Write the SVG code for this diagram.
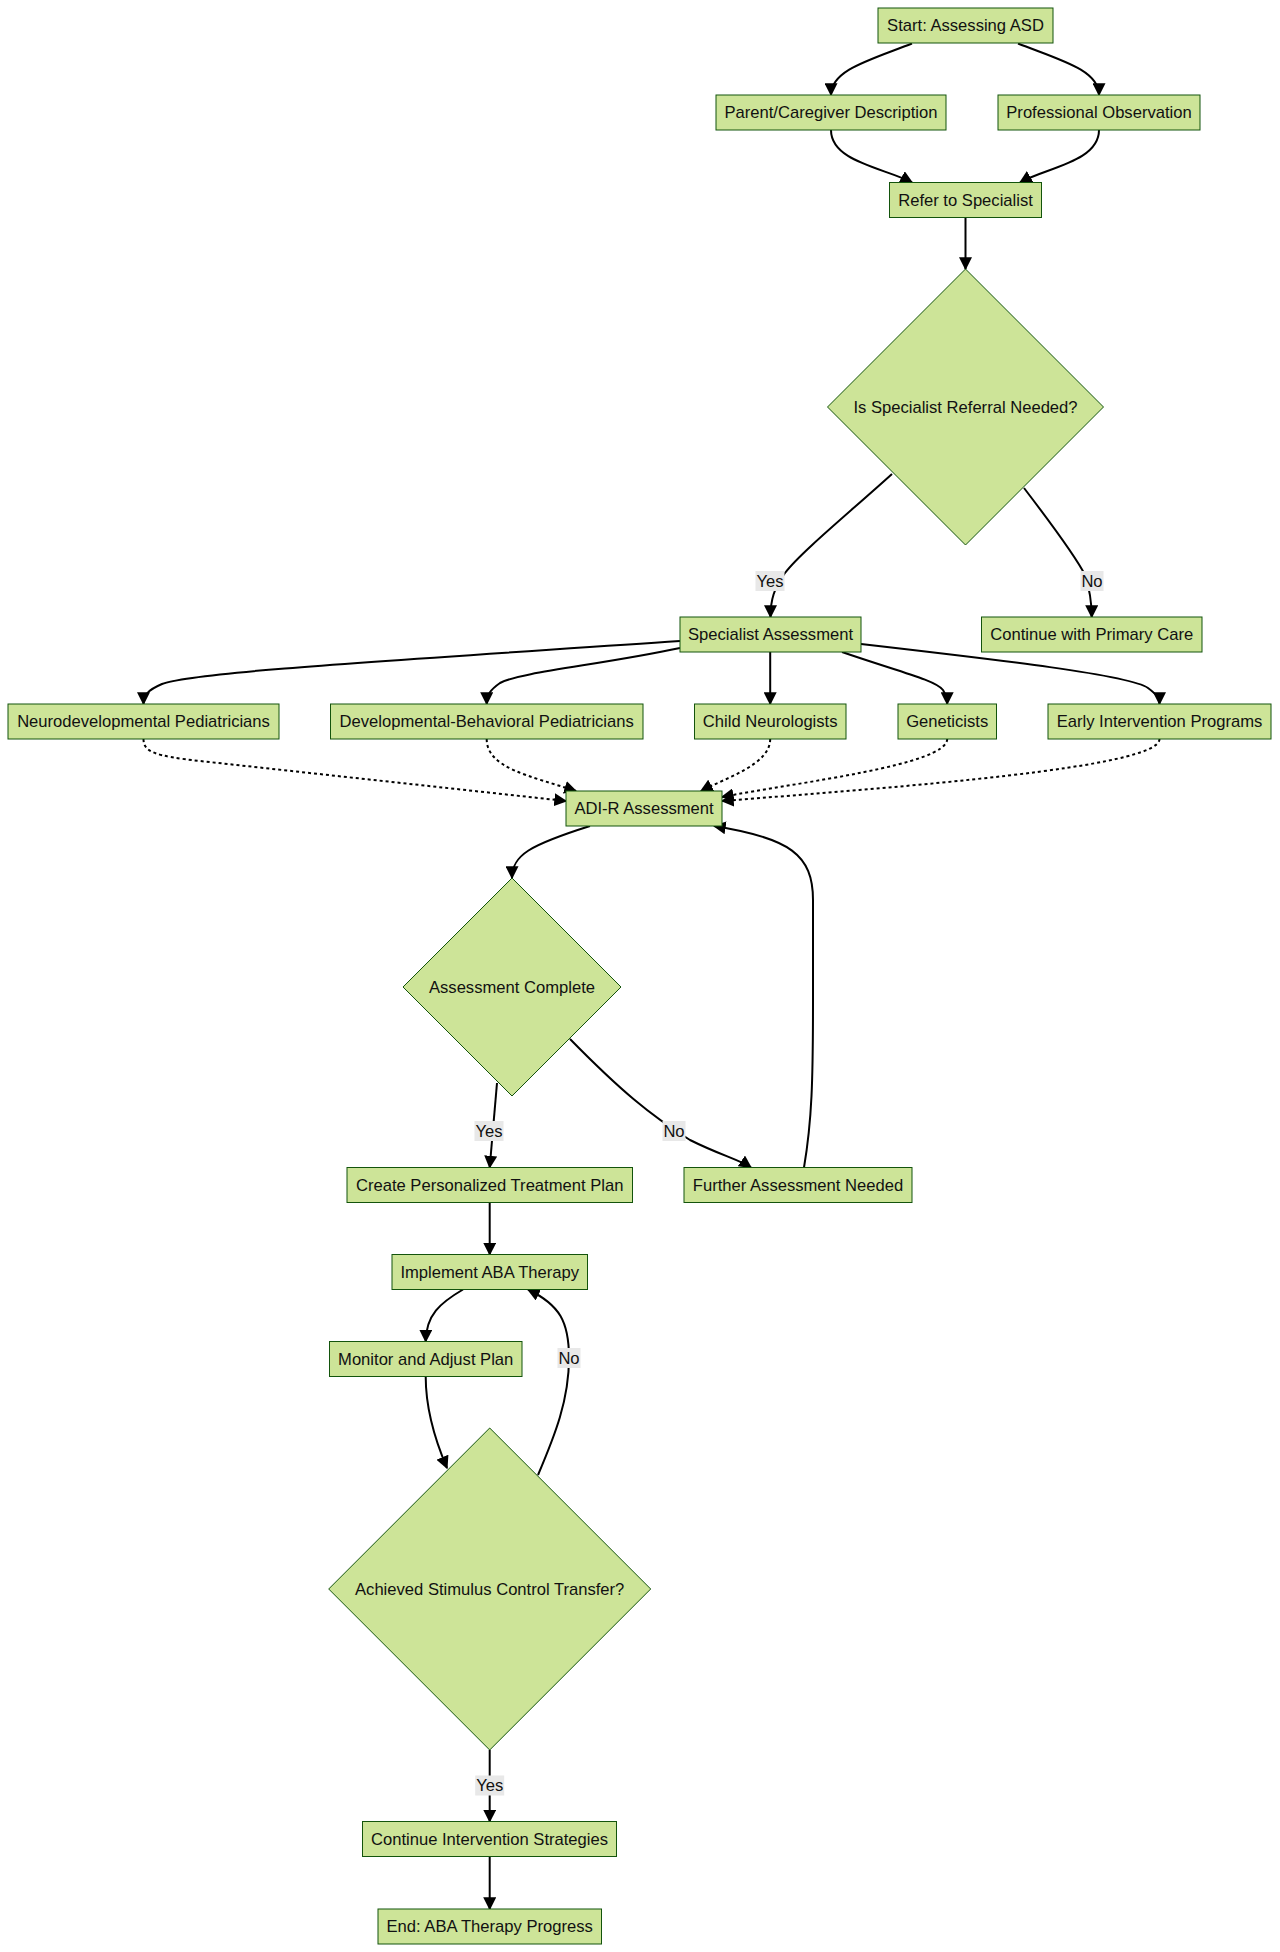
<svg xmlns="http://www.w3.org/2000/svg" width="1280" height="1952" viewBox="0 0 1280 1952">
<defs>
<marker id="arr" viewBox="0 0 10 10" refX="9" refY="5" markerUnits="userSpaceOnUse" markerWidth="13" markerHeight="13" orient="auto">
<path d="M0,0 L10,5 L0,10 z" fill="#000"/>
</marker>
<style>
.n rect, .n polygon { fill: #cde498; stroke: #13540c; stroke-width: 1; }
.n text, .lbl text { font-family: "Liberation Sans", Arial, sans-serif; font-size: 16.6px; fill: #111; text-anchor: middle; dominant-baseline: central; }
.e { fill: none; stroke: #000; stroke-width: 2; marker-end: url(#arr); }
.d { stroke-dasharray: 3 3; }
.lbl rect { fill: #e8e8e8; }
</style>
</defs>
<rect width="1280" height="1952" fill="#fff"/>

<g id="connectors">
<path class="e" d="M912,43.5 C870,60 831,70 831,95"/>
<path class="e" d="M1018,43.5 C1060,60 1099,70 1099,95"/>
<path class="e" d="M831,130 C831,162 885,168 912,182.5"/>
<path class="e" d="M1099,130 C1099,162 1045,168 1020,182.5"/>
<path class="e" d="M965.5,217.5 L965.5,269"/>
<path class="e" d="M892,474 C850,512 800,553 785,573 C774,588 770.5,600 770.5,617"/>
<path class="e" d="M1024,488 C1050,522 1075,555 1085,575 C1090,590 1091.7,600 1091.7,617"/>
<path class="e" d="M680,641 C400,660 190,672 162,684 C148,690 143.5,695 143.5,704"/>
<path class="e" d="M680,648 C600,665 520,672 500,683 C490,690 486.7,695 486.7,704"/>
<path class="e" d="M770.2,652 L770.2,704"/>
<path class="e" d="M842,652 C900,672 935,680 943,690 C946,695 947.2,698 947.2,704"/>
<path class="e" d="M861,644 C1000,660 1130,675 1148,688 C1156,694 1159.5,698 1159.5,704"/>
<path class="e d" d="M143.5,739 C143.5,752 155,756 200,761 L566,801"/>
<path class="e d" d="M486.7,739 C486.7,768 530,776 576,791"/>
<path class="e d" d="M770.2,739 C770.2,765 725,778 701,791"/>
<path class="e d" d="M947.2,739 C947.2,765 800,782 722,797"/>
<path class="e d" d="M1159.5,739 C1159.5,768 900,787 722,801"/>
<path class="e" d="M590,826 C530,845 512,855 512,878"/>
<path class="e" d="M497,1083 L489.7,1167.5"/>
<path class="e" d="M570,1039 C620,1090 650,1115 690,1140 C720,1155 740,1160 751,1167.5"/>
<path class="e" d="M804,1167.5 C812,1120 813,1080 813,1000 L813,900 C813,855 790,838 714,826"/>
<path class="e" d="M489.7,1202.5 L489.7,1254.5"/>
<path class="e" d="M463,1289.5 C440,1303 426,1315 425.7,1341.5"/>
<path class="e" d="M425.7,1376.5 C425.7,1410 435,1440 447,1468"/>
<path class="e" d="M538,1475 C555,1435 569,1400 569,1358 C569,1322 560,1305 528,1289.5"/>
<path class="e" d="M489.7,1750 L489.7,1821.5"/>
<path class="e" d="M489.7,1856.5 L489.7,1909"/>
</g>

<g id="edge-labels" class="lbl">
<rect x="755.5" y="571" width="29" height="20"/><text x="770" y="581">Yes</text>
<rect x="1080.5" y="571" width="23" height="20"/><text x="1092" y="581">No</text>
<rect x="474.5" y="1121" width="29" height="20"/><text x="489" y="1131">Yes</text>
<rect x="662.5" y="1121" width="23" height="20"/><text x="674" y="1131">No</text>
<rect x="557.5" y="1348" width="23" height="20"/><text x="569" y="1358">No</text>
<rect x="475.2" y="1775.5" width="29" height="20"/><text x="489.7" y="1785.5">Yes</text>
</g>

<g id="start" class="n"><rect x="878" y="8" width="175" height="35"/><text x="965.5" y="25.5">Start: Assessing ASD</text></g>
<g id="parent" class="n"><rect x="716" y="95" width="230" height="35"/><text x="831" y="112.5">Parent/Caregiver Description</text></g>
<g id="prof" class="n"><rect x="998" y="95" width="202" height="35"/><text x="1099" y="112.5">Professional Observation</text></g>
<g id="refer" class="n"><rect x="889.5" y="182.5" width="152" height="35"/><text x="965.5" y="200">Refer to Specialist</text></g>
<g id="d1" class="n"><polygon points="965.5,269 1103.5,407 965.5,545 827.5,407"/><text x="965.5" y="407">Is Specialist Referral Needed?</text></g>
<g id="spec" class="n"><rect x="680" y="617" width="181" height="35"/><text x="770.5" y="634.5">Specialist Assessment</text></g>
<g id="primary" class="n"><rect x="981.5" y="617" width="220.5" height="35"/><text x="1091.7" y="634.5">Continue with Primary Care</text></g>
<g id="neuro" class="n"><rect x="8" y="704" width="271" height="35"/><text x="143.5" y="721.5">Neurodevelopmental Pediatricians</text></g>
<g id="devbeh" class="n"><rect x="330.5" y="704" width="312.5" height="35"/><text x="486.7" y="721.5">Developmental-Behavioral Pediatricians</text></g>
<g id="child" class="n"><rect x="694.5" y="704" width="151.5" height="35"/><text x="770.2" y="721.5">Child Neurologists</text></g>
<g id="genet" class="n"><rect x="898" y="704" width="98.5" height="35"/><text x="947.2" y="721.5">Geneticists</text></g>
<g id="early" class="n"><rect x="1048" y="704" width="223" height="35"/><text x="1159.5" y="721.5">Early Intervention Programs</text></g>
<g id="adir" class="n"><rect x="566" y="791" width="156" height="35"/><text x="644" y="808.5">ADI-R Assessment</text></g>
<g id="d2" class="n"><polygon points="512,878 621,987 512,1096 403,987"/><text x="512" y="987">Assessment Complete</text></g>
<g id="create" class="n"><rect x="347" y="1167.5" width="285.5" height="35"/><text x="489.7" y="1185">Create Personalized Treatment Plan</text></g>
<g id="further" class="n"><rect x="684" y="1167.5" width="228" height="35"/><text x="798" y="1185">Further Assessment Needed</text></g>
<g id="implement" class="n"><rect x="392" y="1254.5" width="195.5" height="35"/><text x="489.7" y="1272">Implement ABA Therapy</text></g>
<g id="monitor" class="n"><rect x="329.5" y="1341.5" width="192.5" height="35"/><text x="425.7" y="1359">Monitor and Adjust Plan</text></g>
<g id="d3" class="n"><polygon points="489.7,1428 650.7,1589 489.7,1750 328.7,1589"/><text x="489.7" y="1589">Achieved Stimulus Control Transfer?</text></g>
<g id="contint" class="n"><rect x="362.5" y="1821.5" width="254" height="35"/><text x="489.5" y="1839">Continue Intervention Strategies</text></g>
<g id="end" class="n"><rect x="378" y="1909" width="223.5" height="35"/><text x="489.7" y="1926.5">End: ABA Therapy Progress</text></g>
</svg>
